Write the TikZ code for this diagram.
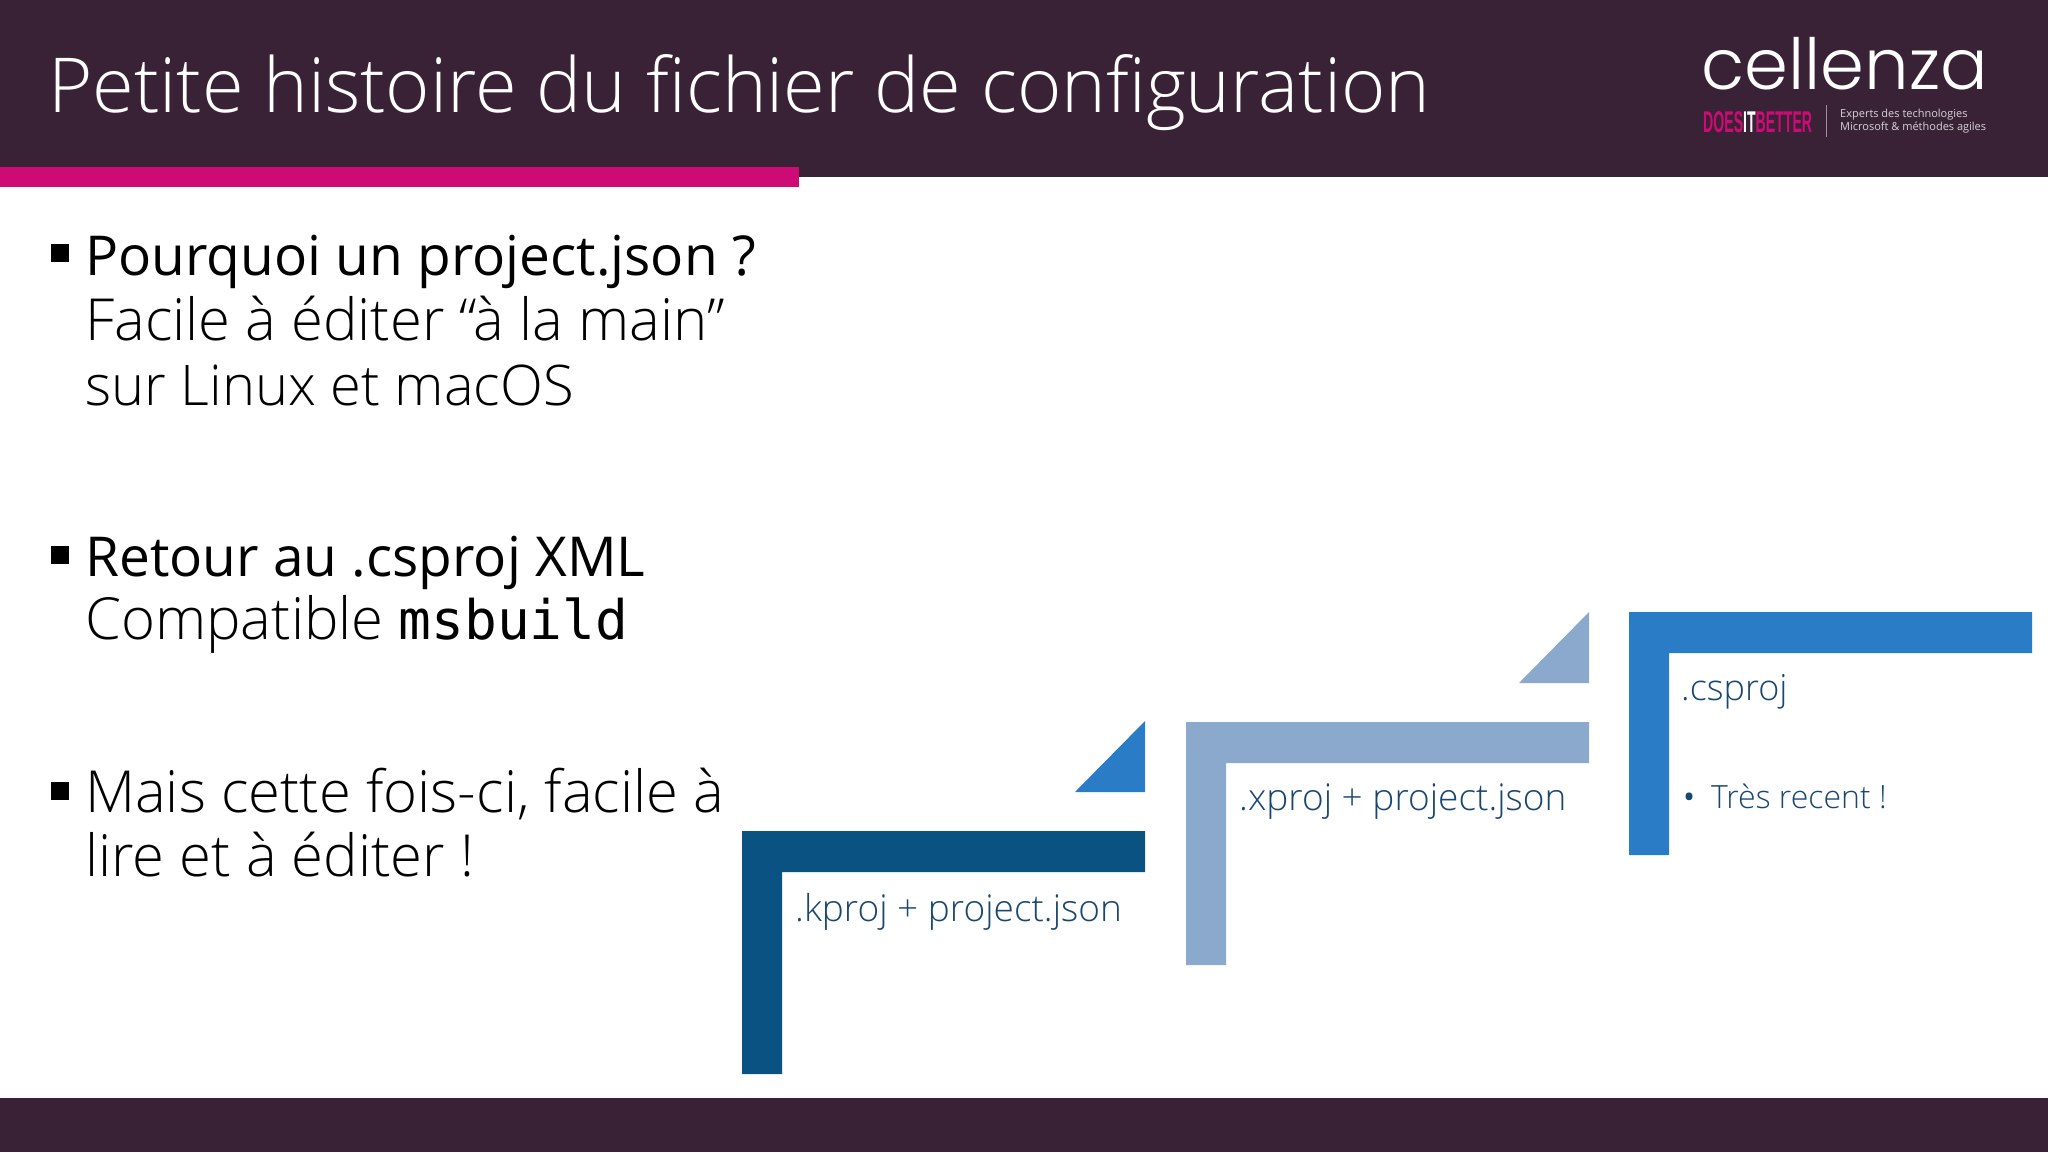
\documentclass[tikz,border=0pt]{standalone}
\usepackage{fontspec}
\setmainfont{Open Sans Light}
\newfontfamily\regfont{Open Sans}
\newfontfamily\logofont{Poppins Light}
\newfontfamily\narrowfont[FakeStretch=0.47]{Liberation Sans}
\setmonofont{DejaVu Sans Mono}
\usepackage{tikz}
\definecolor{plum}{HTML}{3A2236}
\definecolor{rose}{HTML}{CE0B74}
\definecolor{deepblue}{HTML}{0A5282}
\definecolor{paleblue}{HTML}{8BA8CD}
\definecolor{midblue}{HTML}{2A7CC7}
\definecolor{inkblue}{HTML}{1A4672}
\newcommand*{\Step}[3]{\fill[#3] (#1,#2) -- ++(403,0) -- ++(0,41) -- ++(-363,0) -- ++(0,202) -- ++(-40,0) -- cycle;
}
\newcommand*{\Corner}[3]{\fill[#3] (#1,#2) -- ++(0,71) -- ++(-70,0) -- cycle;
}
\begin{document}
\begin{tikzpicture}[x=1pt,y=-1pt]
\tikzstyle{title}=[anchor=base west,inner sep=0pt,text=white,font=\fontsize{75.8}{76}\selectfont]
\tikzstyle{body}=[anchor=base west,inner sep=0pt,text=black,font=\fontsize{58}{58}\selectfont]
\tikzstyle{head}=[body,font=\regfont\fontsize{55}{55}\selectfont]
\tikzstyle{steplabel}=[anchor=base west,inner sep=0pt,text=inkblue,font=\fontsize{37}{37}\selectfont]
\tikzstyle{bullet}=[fill=black,minimum size=18pt,inner sep=0pt]
\tikzstyle{tiny}=[anchor=base west,inner sep=0pt,text=white,opacity=0.8,font=\regfont\fontsize{11}{11}\selectfont]
\useasboundingbox (0,0) rectangle (2048,1152);
\fill[white] (0,0) rectangle (2048,1152);
\fill[plum] (0,0) rectangle (2048,177);
\fill[rose] (0,167) rectangle (799,187);
\fill[plum] (0,1098) rectangle (2048,1152);
% title and logo
\node[title] (title) at (48,112) {Petite histoire du fichier de configuration};
\node[anchor=base west,inner sep=0pt,text=white,font=\logofont\fontsize{70.5}{71}\selectfont] (cellenza) at (1701,89) {cellenza};
\node[anchor=base west,inner sep=0pt,text=rose,font=\narrowfont\bfseries\fontsize{30}{30}\selectfont] (does) at (1703,132) {DOES\textcolor{white}{IT}BETTER};
\draw[white,opacity=0.5] (1826,105) -- (1826,137);
\node[tiny] (experts) at (1840,117) {Experts des technologies};
\node[tiny] (agiles) at (1840,130) {Microsoft \& méthodes agiles};
% left text
\node[bullet] (b1) at (60,253) {};
\node[head] (why) at (85,275) {Pourquoi un project.json ?};
\node[body] (edit) at (85,340) {Facile à éditer “à la main”};
\node[body,font=\fontsize{56}{56}\selectfont] (linux) at (85,405) {sur Linux et macOS};
\node[bullet] (b2) at (60,555) {};
\node[head] (back) at (85,576) {Retour au .csproj XML};
\node[body] (compat) at (85,639) {Compatible \texttt{\fontsize{54.5}{55}\selectfont msbuild}};
\node[bullet] (b3) at (60,791) {};
\node[body] (mais) at (85,812) {Mais cette fois-ci, facile à};
\node[body] (lire) at (85,876) {lire et à éditer !};
% steps
\Step{742}{831}{deepblue}
\Step{1186}{722}{paleblue}
\Step{1629}{612}{midblue}
\Corner{1145}{721}{midblue}
\Corner{1589}{612}{paleblue}
\node[steplabel] (kproj) at (795,921) {.kproj + project.json};
\node[steplabel] (xproj) at (1239,810) {.xproj + project.json};
\node[steplabel,font=\fontsize{36}{36}\selectfont] (csproj) at (1681,700) {.csproj};
\node[steplabel,font=\regfont\fontsize{32}{32}\selectfont] (dot) at (1683,808) {•};
\node[steplabel,font=\fontsize{32}{32}\selectfont] (recent) at (1711,808) {Très recent !};
\end{tikzpicture}
\end{document}
